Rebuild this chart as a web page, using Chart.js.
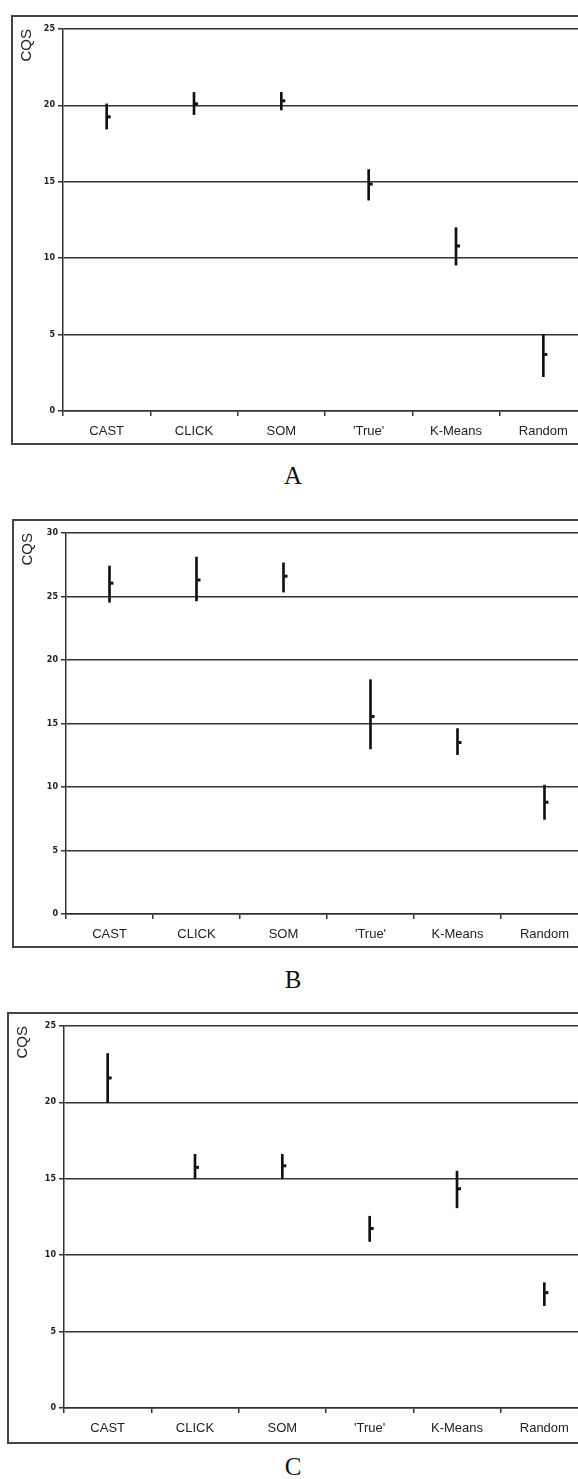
<!DOCTYPE html>
<html>
<head>
<meta charset="utf-8">
<script src="https://cdn.jsdelivr.net/npm/chart.js"></script>
<style>
  html, body { margin: 0; padding: 0; background: #fff; overflow: hidden; }
  body { width: 578px; height: 1479px; position: relative; }
  .panel { position: absolute; border: 2px solid #444; background: #fff; }
  .panel canvas { display: block; }
  .cap { position: absolute; width: 578px; left: 4px; text-align: center;
         font-family: "Liberation Serif", serif; font-size: 25px; color: #111; }
</style>
</head>
<body>
<div class="panel" id="pA" style="left:11px; top:15px;"><canvas id="chartA" width="580" height="426"></canvas></div>
<div class="cap" style="top:462px;">A</div>
<div class="panel" id="pB" style="left:12px; top:519px;"><canvas id="chartB" width="580" height="425"></canvas></div>
<div class="cap" style="top:966px;">B</div>
<div class="panel" id="pC" style="left:7px; top:1012px;"><canvas id="chartC" width="585" height="428"></canvas></div>
<div class="cap" style="top:1453px;">C</div>
<script>
const categories = ['CAST', 'CLICK', 'SOM', "'True'", 'K-Means', 'Random'];

// panel A
const meanA = [19.25, 20.1, 20.3, 14.85, 10.8, 3.7];
const lowA  = [18.45, 19.4, 19.7, 13.8, 9.55, 2.25];
const highA = [20.1, 20.85, 20.85, 15.8, 12.0, 5.0];

// panel B
const meanB = [26.05, 26.3, 26.6, 15.55, 13.5, 8.8];
const lowB  = [24.55, 24.65, 25.35, 13.0, 12.55, 7.45];
const highB = [27.4, 28.1, 27.65, 18.45, 14.6, 10.15];

// panel C
const meanC = [21.6, 15.75, 15.85, 11.75, 14.35, 7.55];
const lowC  = [20.0, 15.0, 15.0, 10.9, 13.1, 6.7];
const highC = [23.2, 16.6, 16.6, 12.55, 15.5, 8.2];

const yTicksA = [0, 5, 10, 15, 20, 25];
const yTicksB = [0, 5, 10, 15, 20, 25, 30];
const yTicksC = [0, 5, 10, 15, 20, 25];

// little square for the mean, just right of the bar
const meanMarks = {
  id: 'meanMarks',
  afterDatasetsDraw(chart) {
    const means = chart.options.plugins.meanMarks.means;
    const meta = chart.getDatasetMeta(0);
    const ctx = chart.ctx;
    ctx.save();
    ctx.fillStyle = '#111';
    meta.data.forEach((el, i) => {
      const x = chart.scales.x.getPixelForValue(i);
      const y = chart.scales.y.getPixelForValue(means[i]);
      ctx.fillRect(x + 1, y - 1.5, 3, 3);
    });
    ctx.restore();
  }
};

function makeChart(id, low, high, mean, ticks, leftW, xH) {
  const ctx = document.getElementById(id).getContext('2d');
  return new Chart(ctx, {
    type: 'bar',
    data: {
      labels: categories,
      datasets: [{
        data: low.map((v, i) => [v, high[i]]),
        backgroundColor: '#111',
        borderWidth: 0,
        barThickness: 2
      }]
    },
    options: {
      responsive: false,
      animation: false,
      devicePixelRatio: 1,
      layout: { padding: { top: 12, right: 6, left: 0, bottom: 0 } },
      plugins: {
        legend: { display: false },
        tooltip: { enabled: false },
        meanMarks: { means: mean }
      },
      scales: {
        x: {
          offset: true,
          grid: { drawOnChartArea: false, offset: true, tickLength: 5, color: '#333', lineWidth: 1.5 },
          border: { color: '#333', width: 1.5 },
          ticks: { color: '#222', padding: 8, font: { family: 'Liberation Sans', size: 13 } },
          afterFit: s => { s.height = xH; }
        },
        y: {
          min: ticks[0],
          max: ticks[ticks.length - 1],
          afterBuildTicks: s => { s.ticks = ticks.map(v => ({ value: v })); },
          grid: { color: '#333', lineWidth: 1.5, tickLength: 5 },
          border: { color: '#333', width: 1.5 },
          ticks: { color: '#222', padding: 3, font: { family: 'DejaVu Sans', size: 8, weight: 'bold' } },
          title: { display: true, text: 'CQS', align: 'end', color: '#222', padding: { top: 5, bottom: 0 },
                   font: { family: 'Liberation Sans', size: 15 } },
          afterFit: s => { s.width = leftW; }
        }
      }
    },
    plugins: [meanMarks]
  });
}

makeChart('chartA', lowA, highA, meanA, yTicksA, 50, 32);
makeChart('chartB', lowB, highB, meanB, yTicksB, 52, 32);
makeChart('chartC', lowC, highC, meanC, yTicksC, 55, 34);
</script>
</body>
</html>
